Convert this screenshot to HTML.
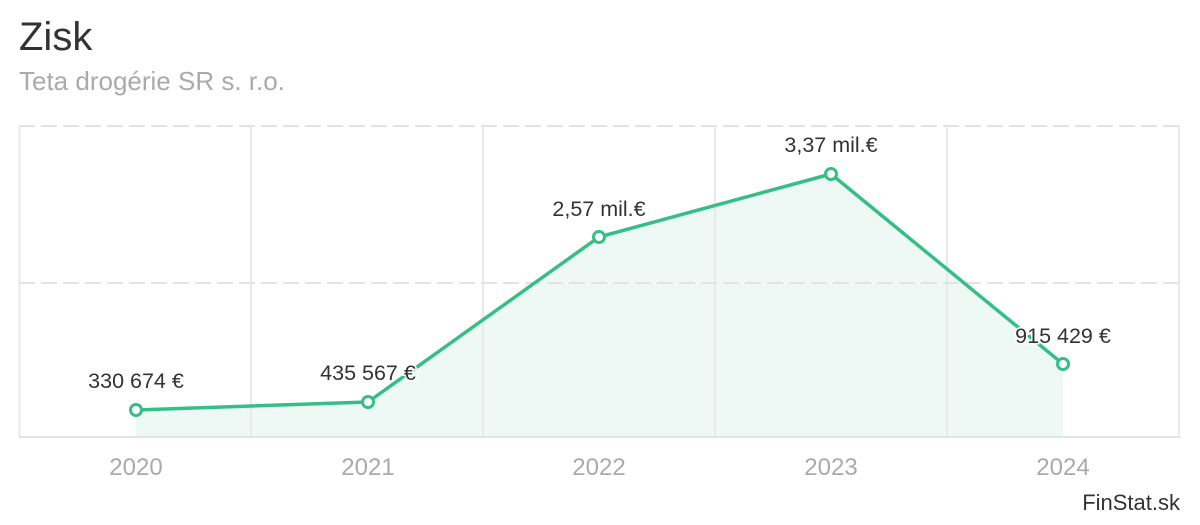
<!DOCTYPE html>
<html><head><meta charset="utf-8"><style>
body{margin:0;background:#fff;width:1200px;height:520px;overflow:hidden}
text{font-family:"Liberation Sans",sans-serif}
</style></head><body>
<svg width="1200" height="520" xmlns="http://www.w3.org/2000/svg">
<text x="19" y="50" font-size="40" fill="#333">Zisk</text>
<text x="19" y="90" font-size="26" fill="#aaa">Teta drogérie SR s. r.o.</text>
<path d="M136,410 L368,402 L599,237 L831,174 L1063,364 L1063,437 L136,437 Z" fill="#eef8f4"/>
<g stroke="#e6e9ee" stroke-width="2">
<line x1="19.5" y1="126" x2="19.5" y2="437"/>
<line x1="251" y1="126" x2="251" y2="437"/>
<line x1="483" y1="126" x2="483" y2="437"/>
<line x1="715" y1="126" x2="715" y2="437"/>
<line x1="947" y1="126" x2="947" y2="437"/>
<line x1="1179" y1="126" x2="1179" y2="437"/>
</g>
<g stroke="#e3e3e3" stroke-width="2" stroke-dasharray="16,6">
<line x1="19" y1="126" x2="1179" y2="126"/>
<line x1="19" y1="283" x2="1179" y2="283"/>
</g>
<line x1="19" y1="437" x2="1180" y2="437" stroke="#e3e3e3" stroke-width="2"/>
<polyline points="136,410 368,402 599,237 831,174 1063,364" fill="none" stroke="#35bf87" stroke-width="3.5" stroke-linejoin="round"/>
<g fill="#fff" stroke="#35bf87" stroke-width="3">
<circle cx="136" cy="410" r="5.5"/><circle cx="368" cy="402" r="5.5"/><circle cx="599" cy="237" r="5.5"/><circle cx="831" cy="174" r="5.5"/><circle cx="1063" cy="364" r="5.5"/>
</g>
<g font-size="21.5" fill="#333" text-anchor="middle" stroke="#fff" stroke-width="3" paint-order="stroke">
<text x="136" y="388">330 674 €</text>
<text x="368" y="380">435 567 €</text>
<text x="599" y="216">2,57 mil.€</text>
<text x="831" y="152">3,37 mil.€</text>
<text x="1063" y="343">915 429 €</text>
</g>
<g font-size="24" fill="#aaa" text-anchor="middle">
<text x="136" y="475">2020</text><text x="368" y="475">2021</text><text x="599" y="475">2022</text><text x="831" y="475">2023</text><text x="1063" y="475">2024</text>
</g>
<text x="1180" y="510" font-size="22" fill="#333" text-anchor="end">FinStat.sk</text>
</svg>
</body></html>
